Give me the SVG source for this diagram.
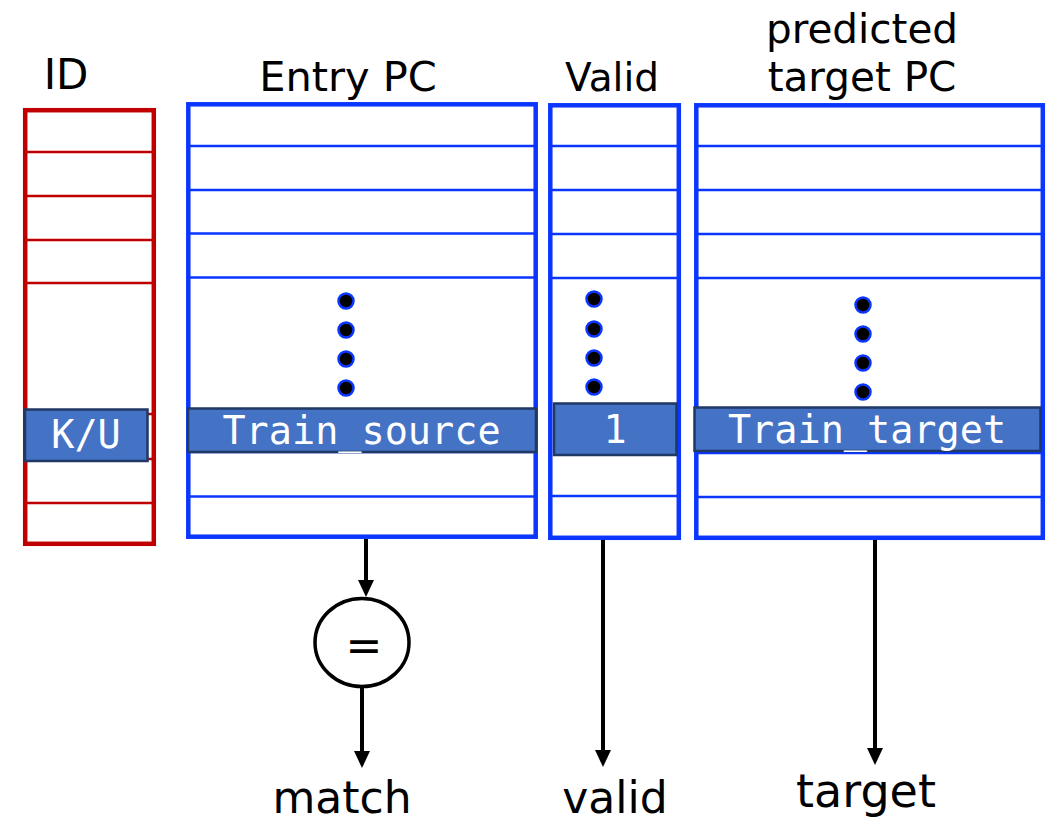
<svg xmlns="http://www.w3.org/2000/svg" width="1051" height="821" viewBox="0 0 1051 821">
<defs>
<style>
.lbl{font-family:"DejaVu Sans","Liberation Sans",sans-serif;fill:#000;text-anchor:middle}
.mono{font-family:"DejaVu Sans Mono","Liberation Mono",monospace;fill:#fff;text-anchor:middle;font-size:38.5px}
.tbl{fill:#fff;stroke:#0A36FF;stroke-width:4.5}
.row{stroke:#0A36FF;stroke-width:2.5}
.idtbl{fill:#fff;stroke:#C00000;stroke-width:4.5}
.idrow{stroke:#C00000;stroke-width:2.5}
.hl{fill:#4472C4;stroke:#1F3864;stroke-width:2.5}
.dot{fill:#000;stroke:#0A36FF;stroke-width:2.5}
.wire{stroke:#000;stroke-width:4;fill:none}
</style>
<marker id="ah" markerUnits="userSpaceOnUse" markerWidth="17" markerHeight="16" refX="3" refY="8" orient="auto">
<path d="M0,0 L17,8 L0,16 z" fill="#000"/>
</marker>
</defs>
<rect width="1051" height="821" fill="#fff"/>

<g id="id-table">
<text class="lbl" x="66" y="89" font-size="42">ID</text>
<rect class="idtbl" x="25.2" y="110.2" width="128.6" height="433.6"/>
<g class="idrow">
<line x1="27" y1="152" x2="152" y2="152"/>
<line x1="27" y1="196" x2="152" y2="196"/>
<line x1="27" y1="240" x2="152" y2="240"/>
<line x1="27" y1="283" x2="152" y2="283"/>
<line x1="27" y1="414" x2="152" y2="414"/>
<line x1="27" y1="459" x2="152" y2="459"/>
<line x1="27" y1="503" x2="152" y2="503"/>
</g>
<rect class="hl" x="25" y="409.5" width="122.5" height="51.5"/>
<text class="mono" x="86" y="448">K/U</text>
</g>

<g id="entry-pc">
<text class="lbl" x="348" y="91" font-size="41.5">Entry PC</text>
<rect class="tbl" x="188.3" y="104.3" width="347.4" height="432.4"/>
<g class="row">
<line x1="190" y1="146" x2="534" y2="146"/>
<line x1="190" y1="190" x2="534" y2="190"/>
<line x1="190" y1="233.5" x2="534" y2="233.5"/>
<line x1="190" y1="277.5" x2="534" y2="277.5"/>
<line x1="190" y1="452" x2="534" y2="452"/>
<line x1="190" y1="496.5" x2="534" y2="496.5"/>
</g>
<circle class="dot" cx="346" cy="301" r="7.5"/>
<circle class="dot" cx="346" cy="330" r="7.5"/>
<circle class="dot" cx="346" cy="359" r="7.5"/>
<circle class="dot" cx="346" cy="388" r="7.5"/>
<rect class="hl" x="188" y="408.5" width="348" height="43.5"/>
<text class="mono" x="361.5" y="444">Train_source</text>
</g>

<g id="valid-col">
<text class="lbl" x="612" y="91" font-size="39">Valid</text>
<rect class="tbl" x="550.3" y="105.3" width="128.5" height="432.5"/>
<g class="row">
<line x1="552" y1="146" x2="677" y2="146"/>
<line x1="552" y1="190" x2="677" y2="190"/>
<line x1="552" y1="234" x2="677" y2="234"/>
<line x1="552" y1="278" x2="677" y2="278"/>
<line x1="552" y1="496" x2="677" y2="496"/>
</g>
<circle class="dot" cx="594" cy="299" r="7.5"/>
<circle class="dot" cx="594" cy="329" r="7.5"/>
<circle class="dot" cx="594" cy="358" r="7.5"/>
<circle class="dot" cx="594" cy="387" r="7.5"/>
<rect class="hl" x="554" y="403.5" width="122.5" height="51.5"/>
<text class="mono" x="615" y="443">1</text>
</g>

<g id="target-col">
<text class="lbl" x="862" y="43" font-size="40.5">predicted</text>
<text class="lbl" x="862" y="91" font-size="40.5">target PC</text>
<rect class="tbl" x="696.3" y="105.3" width="346.5" height="432.5"/>
<g class="row">
<line x1="698" y1="146" x2="1041" y2="146"/>
<line x1="698" y1="190" x2="1041" y2="190"/>
<line x1="698" y1="234" x2="1041" y2="234"/>
<line x1="698" y1="278" x2="1041" y2="278"/>
<line x1="698" y1="453" x2="1041" y2="453"/>
<line x1="698" y1="497" x2="1041" y2="497"/>
</g>
<circle class="dot" cx="863" cy="305" r="7.5"/>
<circle class="dot" cx="863" cy="334" r="7.5"/>
<circle class="dot" cx="863" cy="363" r="7.5"/>
<circle class="dot" cx="863" cy="392" r="7.5"/>
<rect class="hl" x="694.5" y="407.5" width="346" height="43.5"/>
<text class="mono" x="867" y="443">Train_target</text>
</g>

<g id="comparator">
<ellipse cx="362" cy="642.5" rx="47" ry="44" fill="#fff" stroke="#000" stroke-width="3.5"/>
<text class="lbl" x="364" y="661" font-size="44">=</text>
</g>

<g id="outputs">
<text class="lbl" x="342" y="813" font-size="44">match</text>
<text class="lbl" x="615" y="813" font-size="44">valid</text>
<text class="lbl" x="866" y="807" font-size="46">target</text>
</g>

<g id="connectors">
<line class="wire" x1="366" y1="539" x2="366" y2="583" marker-end="url(#ah)"/>
<line class="wire" x1="362" y1="687" x2="362" y2="754" marker-end="url(#ah)"/>
<line class="wire" x1="603" y1="540" x2="603" y2="753" marker-end="url(#ah)"/>
<line class="wire" x1="875" y1="540" x2="875" y2="751" marker-end="url(#ah)"/>
</g>
</svg>
